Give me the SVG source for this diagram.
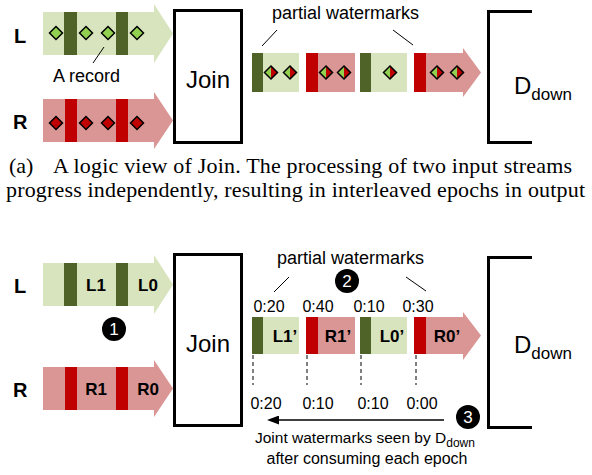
<svg xmlns="http://www.w3.org/2000/svg" width="592" height="475" viewBox="0 0 592 475">
<style>
.lg{fill:#d7e4bd}.dg{fill:#4f6228}.pk{fill:#da9694}.rd{fill:#c00000}
.box{fill:#fff;stroke:#000;stroke-width:3}
.brk{fill:none;stroke:#000;stroke-width:3}
.sans{font-family:'Liberation Sans',Arial,sans-serif}
.lab{font-family:'Liberation Sans',Arial,sans-serif;font-weight:bold;font-size:20px}
.seg{font-family:'Liberation Sans',Arial,sans-serif;font-weight:bold;font-size:17px;text-anchor:middle}
.wm{font-family:'Liberation Sans',Arial,sans-serif;font-size:16px;text-anchor:middle}
.note{font-family:'Liberation Sans',Arial,sans-serif;font-size:18px}
.join{font-family:'Liberation Sans',Arial,sans-serif;font-size:24px;text-anchor:middle}
.cap{font-family:'Liberation Serif','Times New Roman',serif;font-size:22px}
.thin{stroke:#000;stroke-width:1;fill:none}
.dash{stroke:#000;stroke-width:1;stroke-dasharray:4,3;fill:none}
.num{fill:#000}
.numt{font-family:'Liberation Sans',Arial,sans-serif;font-size:17px;fill:#fff;text-anchor:middle}
</style>
<defs>
<polygon id="dg" points="0,-6.5 6.5,0 0,6.5 -6.5,0" fill="#92d050" stroke="#000" stroke-width="1.5"/>
<polygon id="dr" points="0,-6.5 6.5,0 0,6.5 -6.5,0" fill="#c00000" stroke="#000" stroke-width="1.5"/>
<g id="dm">
<polygon points="0,-6.5 0,6.5 -6.5,0" fill="#92d050"/>
<polygon points="0,-6.5 6.5,0 0,6.5" fill="#c00000"/>
<polygon points="0,-6.5 6.5,0 0,6.5 -6.5,0" fill="none" stroke="#000" stroke-width="1.5"/>
</g>
<marker id="ah" markerWidth="12" markerHeight="9" refX="1" refY="4.5" orient="auto" markerUnits="userSpaceOnUse">
<polygon points="0,0 12,4.5 0,9" fill="#000"/>
</marker>
</defs>

<!-- ===== Part (a) ===== -->
<g id="a-L">
<text class="lab" x="14" y="43">L</text>
<polygon class="lg" points="43,12 154,12 154,4 173,33.5 154,63 154,55 43,55"/>
<rect class="dg" x="64" y="12" width="13" height="43"/>
<rect class="dg" x="116" y="12" width="12" height="43"/>
<use href="#dg" x="56" y="33"/><use href="#dg" x="86" y="33"/><use href="#dg" x="108" y="33"/><use href="#dg" x="137" y="33"/>
</g>
<g id="a-record">
<line class="thin" x1="104" y1="47" x2="93" y2="63"/>
<text class="note" x="53" y="82">A record</text>
</g>
<g id="a-R">
<text class="lab" x="13" y="129">R</text>
<polygon class="pk" points="43,99 154,99 154,92 173,120.5 154,149 154,142 43,142"/>
<rect class="rd" x="65" y="99" width="12" height="43"/>
<rect class="rd" x="116" y="99" width="12" height="43"/>
<use href="#dr" x="56" y="123"/><use href="#dr" x="86" y="123"/><use href="#dr" x="108" y="123"/><use href="#dr" x="137" y="123"/>
</g>
<g id="a-join">
<rect class="box" x="174.5" y="10.5" width="67" height="132"/>
<text class="join" x="208" y="88">Join</text>
</g>
<g id="a-out">
<rect class="lg" x="252" y="53" width="47" height="39"/>
<rect class="dg" x="252" y="53" width="11" height="39"/>
<use href="#dm" x="271" y="72.5"/><use href="#dm" x="290" y="72.5"/>
<rect class="pk" x="306" y="53" width="49" height="39"/>
<rect class="rd" x="306" y="53" width="12" height="39"/>
<use href="#dm" x="326" y="72.5"/><use href="#dm" x="344" y="72.5"/>
<rect class="lg" x="360" y="53" width="47" height="39"/>
<rect class="dg" x="360" y="53" width="11" height="39"/>
<use href="#dm" x="390" y="72.5"/>
<polygon class="pk" points="414,53 463,53 463,48 481,72.5 463,97 463,92 414,92"/>
<rect class="rd" x="414" y="53" width="12" height="39"/>
<use href="#dm" x="437" y="72.5"/><use href="#dm" x="457" y="72.5"/>
</g>
<g id="a-pw">
<text class="note" x="272" y="19">partial watermarks</text>
<line class="thin" x1="277" y1="30" x2="262" y2="46"/>
<line class="thin" x1="393" y1="30" x2="413" y2="45"/>
</g>
<g id="a-ddown">
<polyline class="brk" points="532,11.5 488.5,11.5 488.5,142.5 532,142.5"/>
<text class="sans" x="514" y="94" font-size="24">D<tspan font-size="17" dy="6">down</tspan></text>
</g>
<g id="a-caption">
<text class="cap" x="9" y="173">(a)</text>
<text class="cap" x="53" y="173" textLength="519" lengthAdjust="spacing">A logic view of Join.  The processing of two input streams</text>
<text class="cap" x="6" y="197" textLength="579" lengthAdjust="spacing">progress independently, resulting in interleaved epochs in output</text>
</g>

<!-- ===== Part (b) ===== -->
<g id="b-L">
<text class="lab" x="14" y="293">L</text>
<polygon class="lg" points="43,263 154,263 154,255 173,284.5 154,314 154,306 43,306"/>
<rect class="dg" x="64" y="263" width="13" height="43"/>
<rect class="dg" x="116" y="263" width="12" height="43"/>
<text class="seg" x="96" y="291">L1</text>
<text class="seg" x="148" y="291">L0</text>
</g>
<g id="b-R">
<text class="lab" x="13" y="397">R</text>
<polygon class="pk" points="43,367 154,367 154,360 173,388.5 154,417 154,410 43,410"/>
<rect class="rd" x="65" y="367" width="12" height="43"/>
<rect class="rd" x="116" y="367" width="12" height="43"/>
<text class="seg" x="96" y="395">R1</text>
<text class="seg" x="148" y="395">R0</text>
</g>
<g id="b-c1">
<circle class="num" cx="114" cy="329" r="12"/>
<text class="numt" x="114" y="335">1</text>
</g>
<g id="b-join">
<rect class="box" x="174.5" y="254.5" width="67" height="171"/>
<text class="join" x="208" y="352">Join</text>
</g>
<g id="b-pw">
<text class="note" x="277" y="264">partial watermarks</text>
<line class="thin" x1="289" y1="277" x2="274" y2="292"/>
<line class="thin" x1="406" y1="277" x2="426" y2="291"/>
<circle class="num" cx="347" cy="281" r="12"/>
<text class="numt" x="347" y="287">2</text>
<text class="wm" x="269" y="312">0:20</text>
<text class="wm" x="318" y="312">0:40</text>
<text class="wm" x="369" y="312">0:10</text>
<text class="wm" x="418" y="312">0:30</text>
</g>
<g id="b-out">
<rect class="lg" x="252" y="317" width="47" height="37"/>
<rect class="dg" x="252" y="317" width="11" height="37"/>
<text class="seg" x="285" y="342">L1’</text>
<rect class="pk" x="306" y="317" width="49" height="37"/>
<rect class="rd" x="306" y="317" width="12" height="37"/>
<text class="seg" x="338" y="342">R1’</text>
<rect class="lg" x="360" y="317" width="47" height="37"/>
<rect class="dg" x="360" y="317" width="11" height="37"/>
<text class="seg" x="392" y="342">L0’</text>
<polygon class="pk" points="414,317 463,317 463,312 481,335.5 463,360 463,354 414,354"/>
<rect class="rd" x="414" y="317" width="12" height="37"/>
<text class="seg" x="447" y="342">R0’</text>
</g>
<g id="b-connectors">
<line class="dash" x1="253" y1="355" x2="253" y2="385"/>
<line class="dash" x1="307" y1="355" x2="307" y2="385"/>
<line class="dash" x1="361" y1="355" x2="361" y2="385"/>
<line class="dash" x1="416" y1="355" x2="416" y2="385"/>
<line stroke="#000" stroke-width="1.5" x1="444" y1="420" x2="278" y2="420" marker-end="url(#ah)"/>
</g>
<g id="b-joint">
<text class="wm" x="266" y="409">0:20</text>
<text class="wm" x="318" y="409">0:10</text>
<text class="wm" x="373" y="409">0:10</text>
<text class="wm" x="422" y="409">0:00</text>
<circle class="num" cx="468" cy="417" r="12"/>
<text class="numt" x="468" y="423">3</text>
<text class="sans" x="255" y="443" font-size="15.5">Joint watermarks seen by D<tspan font-size="12" dy="4">down</tspan></text>
<text class="wm" x="367" y="464">after consuming each epoch</text>
</g>
<g id="b-ddown">
<polyline class="brk" points="532,257.5 488.5,257.5 488.5,427.5 532,427.5"/>
<text class="sans" x="514" y="353" font-size="24">D<tspan font-size="17" dy="6">down</tspan></text>
</g>
</svg>
